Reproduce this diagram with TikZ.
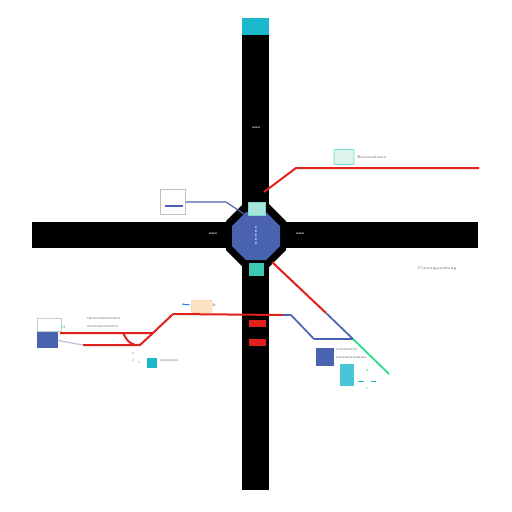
\documentclass[tikz,border=0pt]{standalone}
\usetikzlibrary{arrows.meta}
\definecolor{mblue}{HTML}{4A63B0}
\definecolor{mred}{HTML}{E0201B}
\definecolor{mcyan}{HTML}{1BB8CC}
\definecolor{mteal}{HTML}{3CC8B4}
\definecolor{mmint}{HTML}{DDF5EC}
\definecolor{mgreen}{HTML}{2DDB8C}
\definecolor{mpeach}{HTML}{FDE3C4}
\definecolor{tgray}{HTML}{555555}
\tikzset{
  road/.style={fill=black},
  rline/.style={draw=mred, line width=2pt},
  bline/.style={draw=mblue, line width=1.7pt},
  tiny/.style={font=\fontsize{4}{4.5}\selectfont, text=tgray, inner sep=0pt, anchor=west},
  wtiny/.style={font=\fontsize{3.8}{4}\selectfont\bfseries, text=white, inner sep=0pt},
}
\begin{document}
\begin{tikzpicture}[x=1pt,y=-1pt]
\useasboundingbox (0,0) rectangle (512,512);
\fill[white] (0,0) rectangle (512,512);
% roads
\fill[road] (242,35) rectangle (269,490);
\fill[mcyan] (242,18) rectangle (269,35);
\fill[road] (32,222) rectangle (478,248);
% black octagon
\fill[road] (244,203) -- (268,203) -- (286,221) -- (286,250) -- (268,268) -- (244,268) -- (226,250) -- (226,221) -- cycle;
% blue octagon
\fill[mblue] (246,212) -- (266,212) -- (280,226) -- (280,246) -- (266,260) -- (246,260) -- (232,246) -- (232,226) -- cycle;
\node[wtiny, rotate=-90] (oct) at (256,236) {s:s:s:s:s};
\node[wtiny] (t1) at (256,128) {ǝǝǝ};
\node[wtiny] (t2) at (213,234) {ǝǝǝ};
\node[wtiny] (t3) at (300,234) {ǝǝǝ};
% teal rects
\fill[mteal!45, draw=mteal!70] (248,202) rectangle (265,215);
\fill[mteal] (249,263) rectangle (264,276);
% red signal rects
\fill[mred] (249,320) rectangle (266,327);
\fill[mred] (249,339) rectangle (266,346);
% upper right red line
\coordinate (r1a) at (264,192);
\coordinate (r1b) at (296,168);
\coordinate (r1c) at (479,168);
\draw[rline] (r1a) -- (r1b) -- (r1c);
\node[draw=mteal!70, line width=0.8pt, fill=mmint, rounded corners=1pt, minimum width=20pt, minimum height=15pt, inner sep=0pt] (mint) at (344,157) {};
\node[tiny] (mintt) at (357,157) {Bossassiseso};
% upper left box with blue link
\node[draw=gray!50, fill=white, minimum width=25pt, minimum height=25pt, inner sep=0pt] (wbox) at (173,202) {};
\draw[bline] (165,206) -- (183,206);
\coordinate (b1a) at (226,202);
\coordinate (b1b) at (244,214);
\draw[draw=mblue, line width=1.2pt] (wbox.east) -- (b1a) -- (b1b);
% right text
\node[tiny] (rt) at (418,268) {Cuuuuguusdoug};
% diagonal line right
\coordinate (d1) at (272,262);
\coordinate (d2) at (326,313);
\coordinate (d3) at (353,339);
\coordinate (d4) at (389,374);
\draw[rline] (d1) -- (d2);
\draw[bline] (d2) -- (d3);
\draw[draw=mgreen, line width=1.8pt] (d3) -- (d4);
% horizontal red/blue route
\coordinate (h1) at (173,314);
\coordinate (h2) at (283,315);
\coordinate (h3) at (291,315);
\coordinate (h4) at (314,339);
\draw[rline] (h1) -- (h2);
\draw[bline] (h2) -- (h3) -- (h4) -- (d3);
% left red lines
\coordinate (l1) at (60,333);
\coordinate (l2) at (153,333);
\coordinate (l3) at (83,345);
\coordinate (l4) at (140,345);
\draw[rline] (l1) -- (l2) -- (h1);
\draw[rline] (l3) -- (l4) -- (l2);
\draw[rline] (123,333) .. controls (128,343) and (133,346) .. (l4);
% left boxes
\node[draw=gray!40, fill=white, minimum width=24pt, minimum height=13pt, inner sep=0pt] (lw) at (49,324.5) {};
\node[fill=mblue, minimum width=21pt, minimum height=16pt, inner sep=0pt] (lb) at (47.5,339.5) {};
\draw[draw=mblue!40, line width=1.2pt] (lb.east) ++(0,1) -- (l3);
\node[tiny, text=mcyan] (ls) at (61,327) {f2};
\node[tiny] (lt1) at (87,319) {ueeeeueeeeeee};
\node[tiny] (lt2) at (87,327) {seeseeseeesee};
% peach box
\node[draw=orange!30, fill=mpeach, minimum width=20pt, minimum height=12pt, inner sep=0pt] (peach) at (201,306) {};
\draw[draw=mcyan!60!blue, line width=0.8pt, -{Stealth[length=2pt]}] (190,305) -- (182,304);
\node[tiny] (pi) at (212,305) {\&};
% teal square
\node[fill=mcyan, minimum width=10pt, minimum height=10pt, inner sep=0pt] (tsq) at (152,363) {};
\node[tiny] (tsqt) at (160,361) {essesess};
\fill[mcyan!60] (133,353) circle (0.8);
\fill[mcyan!60] (133,360) circle (0.8);
\fill[mcyan!60] (139,362) circle (0.8);
% blue box lower right
\node[fill=mblue, minimum width=18pt, minimum height=18pt, inner sep=0pt] (rb) at (325,357) {};
\node[tiny] (rbt1) at (336,350) {eseseeses};
\node[tiny] (rbt2) at (336,358) {aaaaaaaaaaa};
\node[fill=mcyan!80, minimum width=14pt, minimum height=22pt, inner sep=0pt] (cy) at (347,375) {};
\draw[mcyan, line width=1pt] (358,381) -- (364,381);
\draw[mcyan, line width=1pt] (371,381) -- (376,381);
\fill[mgreen] (367,370) circle (0.8);
\fill[mcyan] (367,388) circle (0.7);
\end{tikzpicture}
\end{document}
